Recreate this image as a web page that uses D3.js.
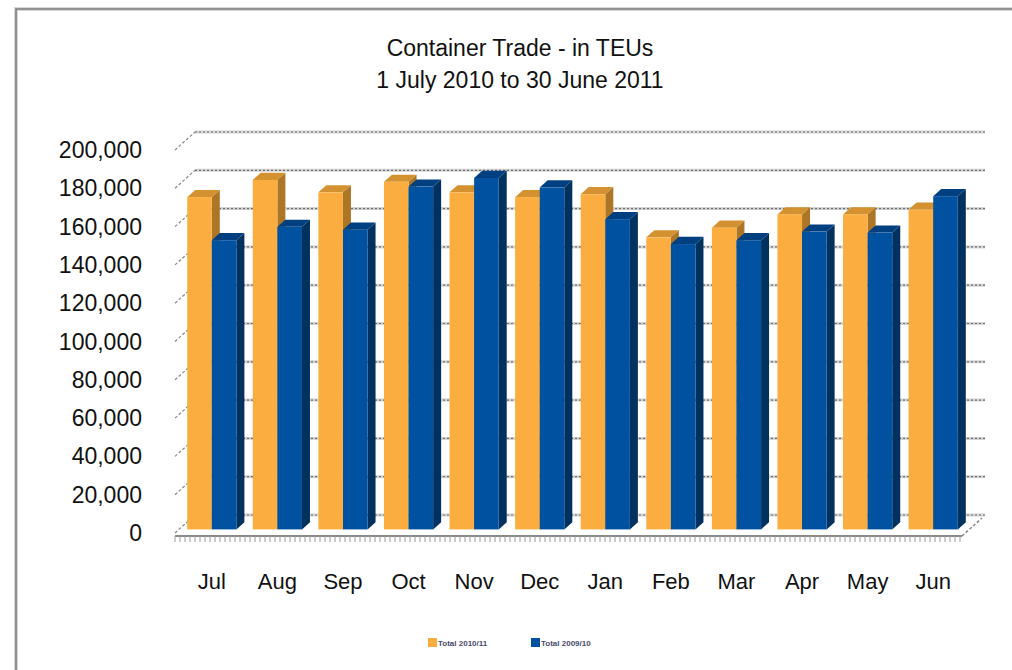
<!DOCTYPE html>
<html>
<head>
<meta charset="utf-8">
<script src="https://cdnjs.cloudflare.com/ajax/libs/d3/7.8.5/d3.min.js"></script>
<style>
  body { margin: 0; background: #fff; }
  svg text { font-family: "Liberation Sans", Arial, sans-serif; fill: #111; }
</style>
</head>
<body>
<div id="chart"></div>
<script>
const width = 1012;
const height = 670;

const months = ["Jul", "Aug", "Sep", "Oct", "Nov", "Dec", "Jan", "Feb", "Mar", "Apr", "May", "Jun"];
const seriesNames = ["Total 2010/11", "Total 2009/10"];
const total1011 = [173500, 182500, 176000, 181500, 176000, 173500, 175000, 152500, 157500, 164500, 164500, 167000];
const total0910 = [151000, 158000, 156500, 179000, 183500, 178500, 162000, 149000, 151000, 155500, 155000, 174000];
const yTicks = [0, 20000, 40000, 60000, 80000, 100000, 120000, 140000, 160000, 180000, 200000];

const colors = {
  front: ["#FBAE3F", "#00519F"],
  top:   ["#D3922F", "#003F80"],
  side:  ["#AC7626", "#00315F"]
};

// 3D box geometry
const left = 175, right = 962, floorY = 533, topY = 150;
const depthX = 20, depthY = -18;
const faceDepth = 0.2, backDepth = 0.6;

const svg = d3.select("#chart").append("svg")
  .attr("width", width)
  .attr("height", height);

// frame
svg.append("path")
  .attr("d", "M16,670 L16,9 L1012,9")
  .attr("fill", "none")
  .attr("stroke", "#d8d8d8")
  .attr("stroke-width", 4);
svg.append("path")
  .attr("d", "M16,670 L16,9 L1012,9")
  .attr("fill", "none")
  .attr("stroke", "#7a7a7a")
  .attr("stroke-width", 1.5);

// titles
svg.append("text").attr("x", 520).attr("y", 56).attr("text-anchor", "middle")
  .style("font-size", "23px").text("Container Trade - in TEUs");
svg.append("text").attr("x", 520).attr("y", 88).attr("text-anchor", "middle")
  .style("font-size", "23px").text("1 July 2010 to 30 June 2011");

const y = d3.scaleLinear().domain([0, 200000]).range([floorY, topY]);
const x0 = d3.scaleBand().domain(months).range([left, right]).paddingInner(0.25).paddingOuter(0.125);
const x1 = d3.scaleBand().domain([0, 1]).range([0, x0.bandwidth()]);

// back wall gridlines
const grid = svg.append("g");
yTicks.forEach(function(t) {
  const yb = y(t) + depthY;
  grid.append("line").attr("x1", left + depthX).attr("x2", 985).attr("y1", yb).attr("y2", yb)
    .attr("stroke", "#d4d4d4").attr("stroke-width", 3);
  grid.append("line").attr("x1", left + depthX).attr("x2", 985).attr("y1", yb).attr("y2", yb)
    .attr("stroke", "#6f6f6f").attr("stroke-width", 1.2).attr("stroke-dasharray", "2,2");
  // left side diagonal
  grid.append("line").attr("x1", left).attr("x2", left + depthX).attr("y1", y(t)).attr("y2", yb)
    .attr("stroke", "#888").attr("stroke-width", 1.2).attr("stroke-dasharray", "3,2");
});

// floor front edge with dense ticks
const floor = svg.append("g");
floor.append("line").attr("x1", left).attr("x2", right).attr("y1", floorY + 3).attr("y2", floorY + 3)
  .attr("stroke", "#8a8a8a").attr("stroke-width", 2);
floor.selectAll("line.tk").data(d3.range(left, right, 5)).enter().append("line")
  .attr("class", "tk")
  .attr("x1", d => d).attr("x2", d => d)
  .attr("y1", floorY + 3).attr("y2", floorY + 9)
  .attr("stroke", "#9a9a9a").attr("stroke-width", 1);
floor.append("line").attr("x1", right).attr("x2", right + depthX).attr("y1", floorY + 3).attr("y2", floorY + 3 + depthY)
  .attr("stroke", "#8a8a8a").attr("stroke-width", 1.5).attr("stroke-dasharray", "3,2");

// bars
const bars = svg.append("g");
const rows = months.map((m, i) => ({ month: m, values: [total1011[i], total0910[i]] }));

rows.forEach(function(r) {
  r.values.forEach(function(v, s) {
    const xf = x0(r.month) + x1(s) + depthX * faceDepth;
    const w = x1.bandwidth();
    const yb = floorY + depthY * faceDepth;
    const yt = y(v) + depthY * faceDepth;
    const dx = depthX * (backDepth - faceDepth);
    const dy = depthY * (backDepth - faceDepth);
    // side
    bars.append("path")
      .attr("d", `M${xf + w},${yt} L${xf + w + dx},${yt + dy} L${xf + w + dx},${yb + dy} L${xf + w},${yb} Z`)
      .attr("fill", colors.side[s]);
    // top
    bars.append("path")
      .attr("d", `M${xf},${yt} L${xf + dx},${yt + dy} L${xf + w + dx},${yt + dy} L${xf + w},${yt} Z`)
      .attr("fill", colors.top[s]);
    // front
    bars.append("rect")
      .attr("x", xf).attr("y", yt)
      .attr("width", w).attr("height", yb - yt)
      .attr("fill", colors.front[s]);
  });
});

// y axis labels
svg.append("g").selectAll("text").data(yTicks).enter().append("text")
  .attr("x", 142).attr("y", d => y(d))
  .attr("dy", "0.35em")
  .attr("text-anchor", "end")
  .style("font-size", "23px")
  .text(d => d3.format(",")(d));

// x axis labels
svg.append("g").selectAll("text").data(months).enter().append("text")
  .attr("x", d => x0(d) + x0.bandwidth() / 2 + 4)
  .attr("y", 589)
  .attr("text-anchor", "middle")
  .style("font-size", "22px")
  .text(d => d);

// legend
const legend = svg.append("g").attr("transform", "translate(428,638)");
seriesNames.forEach(function(name, i) {
  const g = legend.append("g").attr("transform", `translate(${i * 103},0)`);
  g.append("rect").attr("width", 9).attr("height", 9).attr("fill", colors.front[i]);
  g.append("text").attr("x", 10).attr("y", 8).style("font-size", "8px")
    .style("font-weight", "bold").style("fill", "#4a4a6a").text(name);
});
</script>
</body>
</html>
